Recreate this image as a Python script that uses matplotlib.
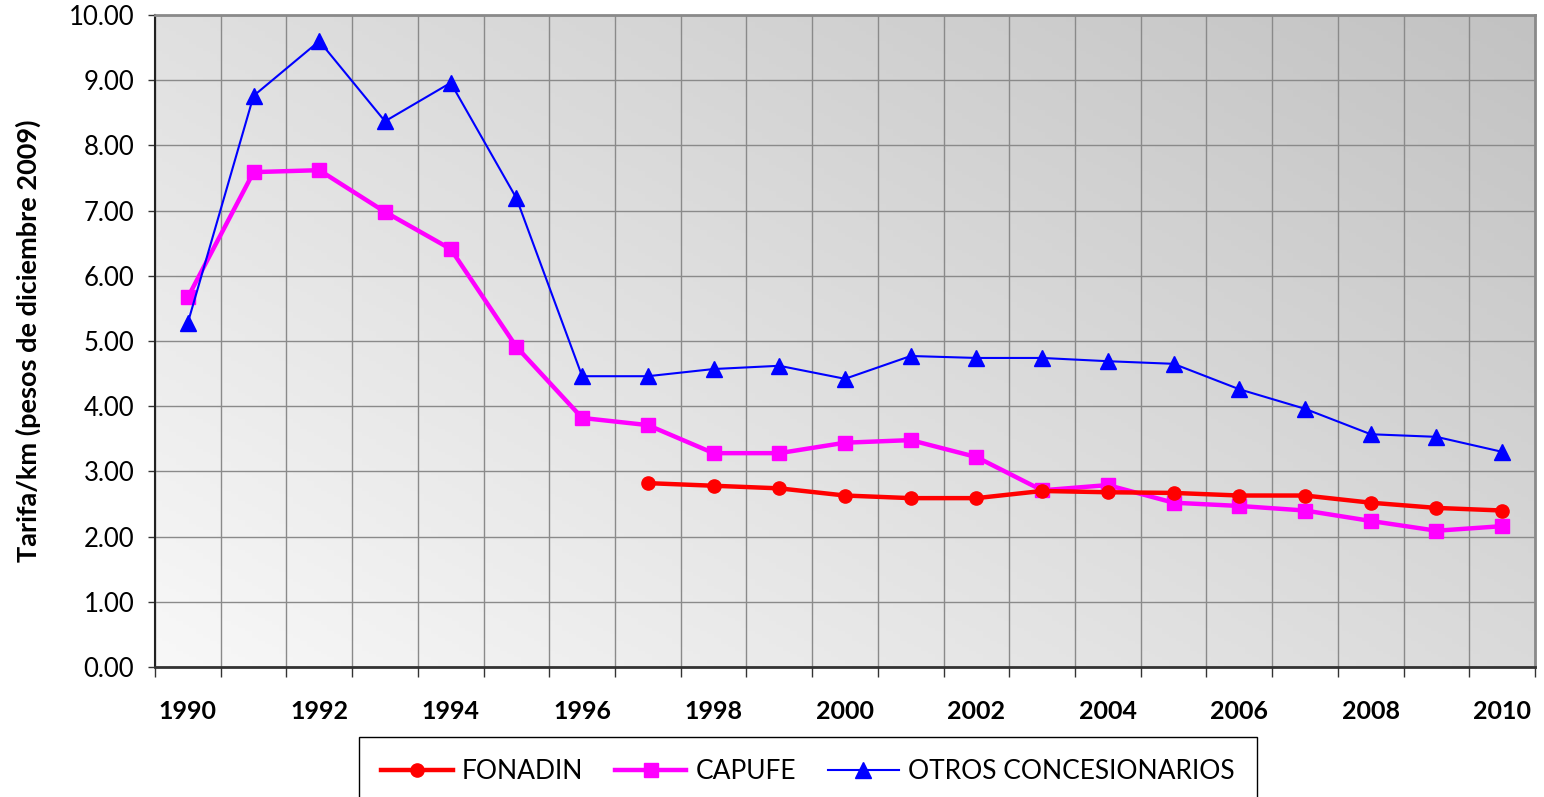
import numpy as np
import matplotlib
matplotlib.use("Agg")
import matplotlib.pyplot as plt
from matplotlib.colors import LinearSegmentedColormap

plt.rcParams['font.family'] = ['Lato', 'DejaVu Sans']

years = list(range(1990, 2011))
fonadin = [None]*7 + [2.82, 2.78, 2.74, 2.63, 2.59, 2.59, 2.70, 2.68, 2.67, 2.63, 2.63, 2.52, 2.44, 2.40]
capufe = [5.67, 7.59, 7.62, 6.98, 6.41, 4.91, 3.82, 3.71, 3.28, 3.28, 3.44, 3.48, 3.22, 2.71, 2.79, 2.52,
          2.47, 2.40, 2.24, 2.09, 2.16]
otros = [5.28, 8.76, 9.60, 8.37, 8.96, 7.19, 4.46, 4.46, 4.57, 4.62, 4.42, 4.77, 4.74, 4.74, 4.69, 4.65,
         4.26, 3.96, 3.57, 3.53, 3.30]
ytick_vals = [0, 1, 2, 3, 4, 5, 6, 7, 8, 9, 10]
xtick_labels = [str(y) for y in years[::2]]

W, H = 1544, 797
fig = plt.figure(figsize=(W/100, H/100), dpi=100)
ax = fig.add_axes([155/W, 1-667/H, (1535-155)/W, (667-15)/H])

x = np.arange(len(years))
fx = np.array([np.nan if v is None else v for v in fonadin], dtype=float)

# gradient background: light bottom-left, darker top-right
gx, gy = np.meshgrid(np.linspace(0, 1, 200), np.linspace(0, 1, 200))
g = (gx * 0.55 + gy * 0.45)
cmap = LinearSegmentedColormap.from_list('bg', ['#f8f8f8', '#c2c2c2'])
ax.imshow(g, cmap=cmap, origin='lower', extent=[0, 1, 0, 1], transform=ax.transAxes,
          aspect='auto', zorder=0)

ax.set_xlim(-0.5, len(years)-0.5)
ax.set_ylim(0, 10)

ax.plot(x, fx, color='#ff0000', lw=3.2, marker='o', ms=9.5, zorder=4, label='FONADIN')
ax.plot(x, capufe, color='#ff00ff', lw=3.2, marker='s', ms=9.5, zorder=3, label='CAPUFE')
ax.plot(x, otros, color='#0000ff', lw=1.5, marker='^', ms=11, zorder=5, label='OTROS CONCESIONARIOS')

ax.set_yticks(ytick_vals)
ax.set_yticklabels([f"{v:.2f}" for v in ytick_vals], fontsize=18.5)
ax.set_xticks(x[::2])
ax.set_xticklabels(xtick_labels, fontsize=18, fontweight='bold')
ax.set_xticks(np.arange(-0.5, len(years)), minor=True)
ax.tick_params(axis='x', which='major', length=0, pad=24)
ax.tick_params(axis='x', which='minor', length=7, width=1, color='#333333')
ax.tick_params(axis='y', length=5, width=1, color='#333333', pad=10)

ax.grid(True, which='minor', axis='x', color='#8a8a8a', lw=1.0, zorder=1)
ax.grid(True, which='major', axis='y', color='#8a8a8a', lw=1.0, zorder=1)
ax.set_axisbelow(True)

for s in ['top', 'right']:
    ax.spines[s].set_color('#8a8a8a')
    ax.spines[s].set_linewidth(2)
ax.spines['left'].set_color('#222222')
ax.spines['bottom'].set_color('#333333')
ax.spines['left'].set_linewidth(1.5)
ax.spines['bottom'].set_linewidth(2)

ax.set_ylabel('Tarifa/km (pesos de diciembre 2009)', fontsize=19.5, fontweight='bold', labelpad=20)

leg = fig.legend(loc='upper center', bbox_to_anchor=(808/W, 1-737/H), ncol=3, fontsize=19,
                 frameon=True, fancybox=False, edgecolor='#000000', framealpha=1,
                 handlelength=2.7, columnspacing=1.2, borderpad=0.85, handletextpad=0.35,
                 borderaxespad=0)
leg.get_frame().set_linewidth(1.0)

fig.savefig('out.png', dpi=100)
